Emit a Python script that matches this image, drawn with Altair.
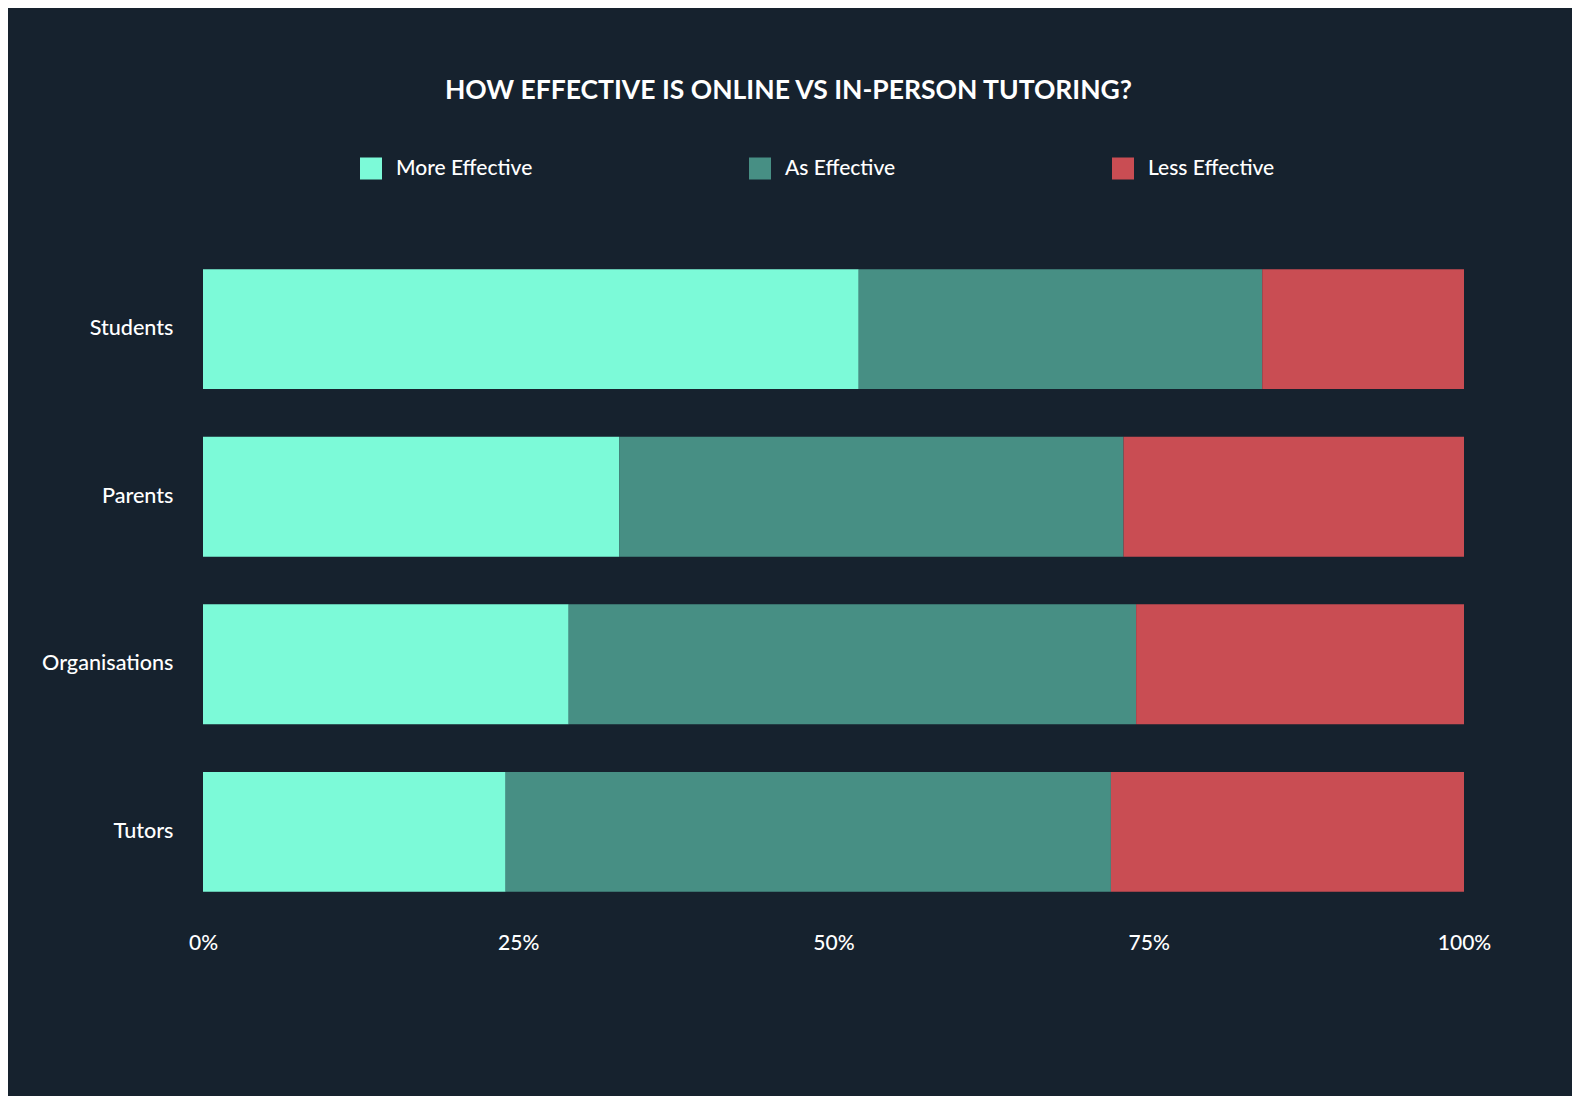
import altair as alt
import pandas as pd

groups = ["Students", "Parents", "Organisations", "Tutors"]
categories = ["More Effective", "As Effective", "Less Effective"]
more_effective = [52, 33, 29, 24]
as_effective = [32, 40, 45, 48]
less_effective = [16, 27, 26, 28]
colors = ["#7cfad8", "#478f84", "#c94d53"]
x_ticks = [0, 25, 50, 75, 100]
title_text = "HOW EFFECTIVE IS ONLINE VS IN-PERSON TUTORING?"

series = [more_effective, as_effective, less_effective]
rows = []
for i, g in enumerate(groups):
    for j, cat in enumerate(categories):
        rows.append({"group": g, "category": cat, "value": series[j][i], "order": j})
df = pd.DataFrame(rows)

FONT = "Lato"
BG = "#16222e"
LABEL_SIZE = 21
LABEL_WEIGHT = 500

chart = alt.Chart(df).mark_bar(strokeWidth=0).encode(
    y=alt.Y(
        "group:N",
        sort=groups,
        scale=alt.Scale(paddingInner=0.284, paddingOuter=0.15),
        axis=alt.Axis(
            title=None, ticks=False, domain=False, grid=False,
            labelFont=FONT, labelFontSize=21.6, labelFontWeight=LABEL_WEIGHT,
            labelColor="white", labelPadding=30,
        ),
    ),
    x=alt.X(
        "value:Q",
        stack="zero",
        scale=alt.Scale(domain=[0, 100], nice=False),
        axis=alt.Axis(
            title=None, ticks=False, domain=False, grid=False,
            values=x_ticks, labelExpr="datum.value + '%'",
            labelFont=FONT, labelFontSize=LABEL_SIZE, labelFontWeight=LABEL_WEIGHT,
            labelColor="white", labelPadding=15, labelFlush=False,
        ),
    ),
    color=alt.Color(
        "category:N",
        sort=categories,
        scale=alt.Scale(domain=categories, range=colors),
        legend=alt.Legend(
            title=None, orient="none", direction="horizontal", columns=3,
            legendX=157, legendY=-86.5, padding=0,
            symbolType="square", symbolSize=484, symbolStrokeWidth=0,
            symbolOpacity=1, labelOffset=14, columnPadding=216,
            labelFont=FONT, labelFontSize=LABEL_SIZE, labelFontWeight=LABEL_WEIGHT,
            labelColor="white", labelLimit=400,
        ),
    ),
    order=alt.Order("order:Q"),
).properties(
    width=1261,
    height=673,
    title=alt.Title(
        title_text, font=FONT, fontSize=26.5, fontWeight="bold",
        color="white", anchor="middle", dx=-45, offset=53,
    ),
    autosize=alt.AutoSizeParams(type="none"),
    padding={"left": 195, "top": 236, "right": 108, "bottom": 179},
    background=BG,
).configure_view(strokeWidth=0)

chart.save("out.html", embed_options={"renderer": "svg", "actions": False})
